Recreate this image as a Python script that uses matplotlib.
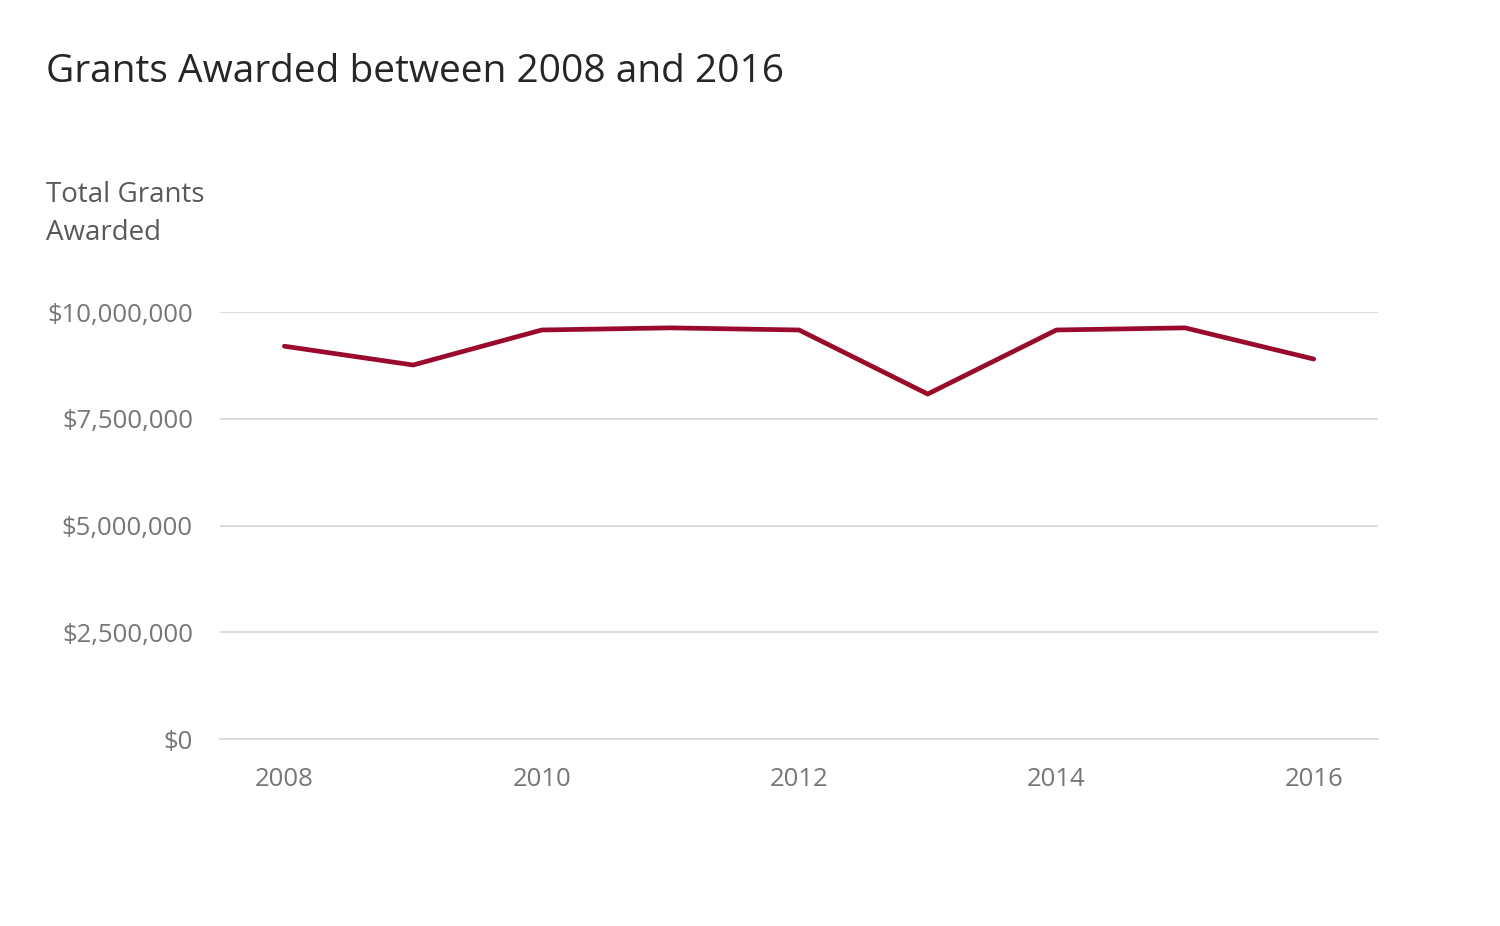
import matplotlib.pyplot as plt
from matplotlib.ticker import FuncFormatter

years = [2008, 2009, 2010, 2011, 2012, 2013, 2014, 2015, 2016]
grants = [9200000, 8760000, 9580000, 9630000, 9580000, 8080000, 9580000, 9630000, 8900000]
yticks = [0, 2500000, 5000000, 7500000, 10000000]
xticks = [2008, 2010, 2012, 2014, 2016]

plt.rcParams['font.family'] = ['Open Sans', 'DejaVu Sans']

fig = plt.figure(figsize=(15, 9.26), dpi=100)
ax = fig.add_axes([0.1467, 0.2019, 0.772, 0.4611])

ax.plot(years, grants, color='#990A2C', linewidth=3.4, solid_capstyle='round', clip_on=False)

ax.set_xlim(2007.5, 2016.5)
ax.set_ylim(0, 10000000)
ax.set_xticks(xticks)
ax.set_yticks(yticks)
ax.yaxis.set_major_formatter(FuncFormatter(lambda v, p: '${:,.0f}'.format(v)))

ax.grid(axis='y', color='#d9d9d9', linewidth=1.3)
ax.set_axisbelow(True)
for s in ['top', 'right', 'left']:
    ax.spines[s].set_visible(False)
ax.spines['bottom'].set_color('#d9d9d9')
ax.spines['bottom'].set_linewidth(1.3)
ax.tick_params(axis='both', length=0, labelsize=18.5, labelcolor='#767676')
ax.tick_params(axis='y', pad=19.5)
ax.tick_params(axis='x', pad=20)

fig.text(0.0307, 0.9114, 'Grants Awarded between 2008 and 2016', fontsize=28,
         color='#262626', va='baseline', ha='left')
fig.text(0.0307, 0.7408, 'Total Grants\nAwarded', fontsize=20, color='#595959',
         va='baseline', ha='left', linespacing=1.5)

fig.savefig('out.png', dpi=100)
